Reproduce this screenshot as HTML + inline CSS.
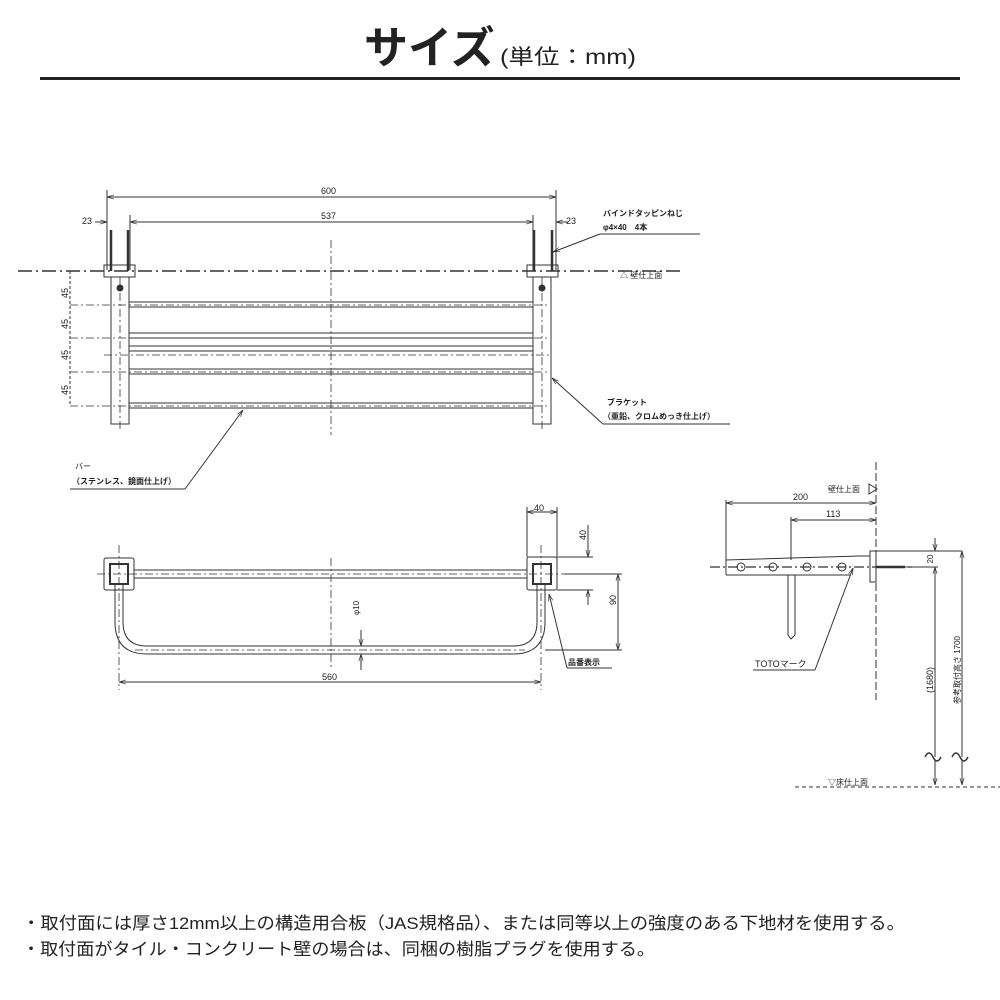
<!DOCTYPE html>
<html><head><meta charset="utf-8"><style>
html,body{margin:0;padding:0;background:#fff;}
svg{display:block;}
text{font-family:"Liberation Sans","Noto Sans CJK JP",sans-serif;fill:#222;}
</style></head><body>
<svg width="1000" height="1000" viewBox="0 0 1000 1000" xmlns="http://www.w3.org/2000/svg">
<defs>
<marker id="a" viewBox="0 0 10 10" refX="10" refY="5" markerWidth="7" markerHeight="7" orient="auto-start-reverse"><path d="M0,2 L10,5 L0,8" fill="none" stroke="#333" stroke-width="1"/></marker>
</defs>
<!-- header -->
<text x="364" y="63" font-size="44" font-weight="bold" fill="#111">サイズ</text>
<text x="500" y="64" font-size="21" fill="#111" textLength="136" lengthAdjust="spacingAndGlyphs">(単位：mm)</text>
<rect x="40" y="77" width="920" height="3" fill="#222"/>

<g stroke="#333" stroke-width="1" fill="none">
<!-- TOP VIEW -->
<line x1="107" y1="197" x2="556" y2="197" marker-start="url(#a)" marker-end="url(#a)"/>
<line x1="130" y1="222" x2="533" y2="222" marker-start="url(#a)" marker-end="url(#a)"/>
<line x1="95" y1="222" x2="107" y2="222" marker-end="url(#a)"/>
<line x1="568" y1="222" x2="556" y2="222" marker-end="url(#a)"/>
<line x1="107" y1="190" x2="107" y2="270"/><line x1="556" y1="190" x2="556" y2="270"/>
<line x1="130" y1="215" x2="130" y2="270"/><line x1="533" y1="215" x2="533" y2="270"/>
<line x1="18" y1="271" x2="680" y2="271" stroke-width="1.5" stroke-dasharray="14,4,2,4"/>
<!-- screws -->
<g stroke-width="2.5"><line x1="111" y1="230" x2="111" y2="271"/><line x1="128" y1="230" x2="128" y2="271"/><line x1="534" y1="230" x2="534" y2="271"/><line x1="552" y1="230" x2="552" y2="271"/></g>
<!-- brackets -->
<rect x="104" y="265" width="31" height="12"/><rect x="527" y="265" width="31" height="12"/>
<rect x="111" y="277" width="18" height="147"/><rect x="533" y="277" width="18" height="147"/>
<circle cx="120" cy="288" r="3" fill="#333"/><circle cx="542" cy="288" r="3" fill="#333"/>
<!-- bars -->
<g>
<line x1="129" y1="302" x2="533" y2="302"/><line x1="129" y1="307" x2="533" y2="307"/>
<line x1="129" y1="333" x2="533" y2="333"/><line x1="129" y1="338" x2="533" y2="338"/>
<line x1="129" y1="346" x2="533" y2="346"/><line x1="129" y1="351" x2="533" y2="351"/>
<line x1="129" y1="369" x2="533" y2="369"/><line x1="129" y1="374" x2="533" y2="374"/>
<line x1="129" y1="403" x2="533" y2="403"/><line x1="129" y1="408" x2="533" y2="408"/>
</g>
<g stroke-dasharray="8,3,2,3" stroke-width="0.8">
<line x1="70" y1="305" x2="550" y2="305"/><line x1="70" y1="338" x2="550" y2="338"/>
<line x1="104" y1="355" x2="552" y2="355"/><line x1="70" y1="372" x2="550" y2="372"/><line x1="70" y1="406" x2="550" y2="406"/>
<line x1="331" y1="240" x2="331" y2="435"/><line x1="120" y1="277" x2="120" y2="430"/><line x1="542" y1="277" x2="542" y2="430"/>
</g>
<line x1="70" y1="271" x2="70" y2="406" stroke-dasharray="3,2"/>
<!-- leaders -->
<line x1="600" y1="234" x2="700" y2="234"/><line x1="600" y1="234" x2="553" y2="252" marker-end="url(#a)"/>
<line x1="603" y1="424" x2="730" y2="424"/><line x1="603" y1="424" x2="552" y2="378" marker-end="url(#a)"/>
<line x1="70" y1="489" x2="185" y2="489"/><line x1="185" y1="489" x2="243" y2="410" marker-end="url(#a)"/>

<!-- FRONT VIEW -->
<rect x="104" y="558" width="30" height="32" rx="2"/><rect x="110" y="564" width="18" height="20" stroke-width="2"/>
<rect x="527" y="557" width="30" height="33" rx="2"/><rect x="533" y="564" width="18" height="20" stroke-width="2"/>
<line x1="134" y1="570" x2="527" y2="570"/><line x1="134" y1="578" x2="527" y2="578"/>
<path d="M115,584 V622 Q115,654 147,654 H513 Q545,654 545,622 V584"/>
<path d="M123,584 V622 Q123,646 147,646 H513 Q537,646 537,622 V584"/>
<g stroke-dasharray="8,3,2,3" stroke-width="0.8">
<line x1="97" y1="574" x2="564" y2="574"/><line x1="119" y1="545" x2="119" y2="690"/><line x1="541" y1="545" x2="541" y2="690"/>
<line x1="331" y1="558" x2="331" y2="668"/><line x1="135" y1="650" x2="525" y2="650"/>
</g>
<line x1="119" y1="682" x2="541" y2="682" marker-start="url(#a)" marker-end="url(#a)"/>
<line x1="527" y1="512" x2="557" y2="512" marker-start="url(#a)" marker-end="url(#a)"/>
<line x1="527" y1="507" x2="527" y2="557"/><line x1="557" y1="507" x2="557" y2="557"/>
<line x1="557" y1="557" x2="593" y2="557"/><line x1="557" y1="590" x2="593" y2="590"/>
<line x1="588" y1="525" x2="588" y2="557" marker-end="url(#a)"/><line x1="588" y1="605" x2="588" y2="590" marker-end="url(#a)"/>
<line x1="564" y1="574" x2="622" y2="574"/><line x1="545" y1="650" x2="622" y2="650"/>
<line x1="618" y1="574" x2="618" y2="650" marker-start="url(#a)" marker-end="url(#a)"/>
<line x1="361" y1="630" x2="361" y2="646" marker-end="url(#a)"/><line x1="361" y1="670" x2="361" y2="654" marker-end="url(#a)"/>
<line x1="567" y1="668" x2="612" y2="668"/><line x1="567" y1="668" x2="549" y2="594" marker-end="url(#a)"/>

<!-- SIDE VIEW -->
<line x1="876" y1="462" x2="876" y2="700" stroke-dasharray="8,3"/>
<line x1="726" y1="503" x2="876" y2="503" marker-start="url(#a)" marker-end="url(#a)"/>
<line x1="791" y1="520" x2="876" y2="520" marker-start="url(#a)" marker-end="url(#a)"/>
<line x1="726" y1="500" x2="726" y2="575"/><line x1="791" y1="517" x2="791" y2="560"/>
<path d="M726,560 L860,556 L870,556 M726,575 L850,575"/><line x1="726" y1="560" x2="726" y2="575"/>
<rect x="870" y="551" width="6" height="31"/>
<line x1="876" y1="567" x2="905" y2="567" stroke-width="2.5"/>
<line x1="710" y1="567" x2="912" y2="567" stroke-dasharray="10,3,2,3" stroke-width="1.2"/>
<circle cx="741" cy="567" r="4"/><circle cx="773" cy="567" r="4"/><circle cx="807" cy="567" r="4"/><circle cx="842" cy="567" r="4"/>
<path d="M788,575 V635 L791,639 L795,635 V575"/>
<line x1="753" y1="670" x2="815" y2="670"/><line x1="815" y1="670" x2="853" y2="568" marker-end="url(#a)"/>
<line x1="876" y1="551" x2="962" y2="551"/><line x1="900" y1="567" x2="938" y2="567"/>
<line x1="935" y1="538" x2="935" y2="551" marker-end="url(#a)"/>
<line x1="935" y1="567" x2="935" y2="785" marker-start="url(#a)" marker-end="url(#a)"/>
<line x1="962" y1="551" x2="962" y2="785" marker-start="url(#a)" marker-end="url(#a)"/>
<line x1="795" y1="787" x2="1000" y2="787" stroke-dasharray="4,3"/>
<path d="M925,757 q4,-8 8,0 t8,0 M952,757 q4,-8 8,0 t8,0" stroke-width="1.5" fill="#fff"/>
<path d="M869,484 L877,489 L869,494 Z"/>
</g>

<!-- labels -->
<g font-size="9">
<text x="321" y="194">600</text><text x="321" y="219">537</text>
<text x="82" y="224">23</text><text x="566" y="224">23</text>
<text x="603" y="216" font-size="8" font-weight="bold">バインドタッピンねじ</text>
<text x="603" y="230" font-size="8" font-weight="bold">φ4×40　4本</text>
<text x="620" y="278" font-size="8">△ 壁仕上面</text>
<text x="607" y="405" font-size="8" font-weight="bold">ブラケット</text>
<text x="603" y="419" font-size="8" font-weight="bold">（亜鉛、クロムめっき仕上げ）</text>
<text x="75" y="469" font-size="8">バー</text>
<text x="72" y="484" font-size="8" font-weight="bold">（ステンレス、鏡面仕上げ）</text>
<text transform="translate(68,293) rotate(-90)" text-anchor="middle">45</text>
<text transform="translate(68,324) rotate(-90)" text-anchor="middle">45</text>
<text transform="translate(68,355) rotate(-90)" text-anchor="middle">45</text>
<text transform="translate(68,390) rotate(-90)" text-anchor="middle">45</text>
<text x="322" y="680">560</text><text x="534" y="511">40</text>
<text transform="translate(586,535) rotate(-90)" text-anchor="middle">40</text>
<text transform="translate(616,600) rotate(-90)" text-anchor="middle">90</text>
<text transform="translate(359,608) rotate(-90)" text-anchor="middle" font-size="8">φ10</text>
<text x="568" y="665" font-size="8" font-weight="bold">品番表示</text>
<text x="828" y="492" font-size="8">壁仕上面</text>
<text x="793" y="500">200</text><text x="826" y="517">113</text>
<text x="755" y="667">TOTOマーク</text>
<text transform="translate(933,559) rotate(-90)" text-anchor="middle" font-size="8">20</text>
<text transform="translate(933,680) rotate(-90)" text-anchor="middle">(1680)</text>
<text transform="translate(960,670) rotate(-90)" text-anchor="middle" font-size="8">参考取付高さ 1700</text>
<text x="828" y="785" font-size="8">▽床仕上面</text>
</g>

<text x="22" y="929" font-size="17" fill="#222" textLength="883" lengthAdjust="spacingAndGlyphs">・取付面には厚さ12mm以上の構造用合板（JAS規格品）、または同等以上の強度のある下地材を使用する。</text>
<text x="22" y="955" font-size="17" fill="#222" textLength="633" lengthAdjust="spacingAndGlyphs">・取付面がタイル・コンクリート壁の場合は、同梱の樹脂プラグを使用する。</text>
</svg>
</body></html>
